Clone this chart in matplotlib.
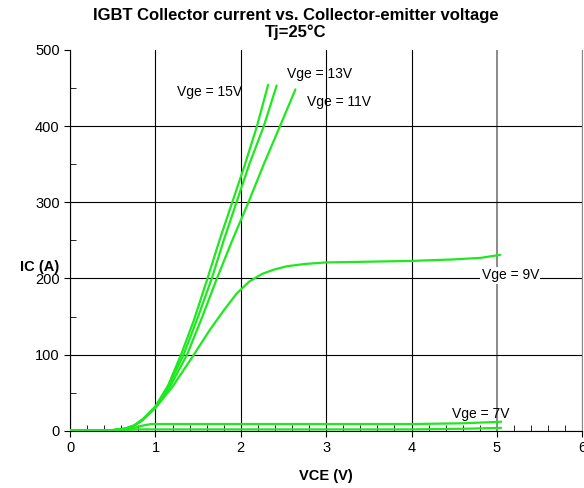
import matplotlib
matplotlib.use("Agg")
import matplotlib.pyplot as plt
from matplotlib.ticker import MultipleLocator

plt.rcParams['font.family'] = ['Liberation Sans', 'DejaVu Sans']

# curves: VCE (V) and IC (A)
vce_15 = [0, 0.5, 0.65, 0.75, 0.85, 1.0, 1.15, 1.3, 1.45, 1.61, 1.75, 1.90, 2.05, 2.19, 2.32]
ic_15 = [0, 1, 3, 7, 15, 32, 60, 100, 145, 200, 250, 300, 350, 400, 454]
vce_13 = [0, 0.5, 0.65, 0.75, 0.85, 1.0, 1.15, 1.33, 1.5, 1.66, 1.8, 1.95, 2.1, 2.27, 2.42]
ic_13 = [0, 1, 3, 7, 15, 32, 58, 100, 150, 200, 250, 300, 350, 400, 453]
vce_11 = [0, 0.5, 0.65, 0.75, 0.85, 1.0, 1.18, 1.37, 1.55, 1.72, 1.9, 2.09, 2.27, 2.46, 2.64]
ic_11 = [0, 1, 3, 7, 15, 31, 60, 100, 150, 200, 250, 300, 350, 400, 448]
vce_9 = [0, 0.5, 0.65, 0.75, 0.85, 1.0, 1.2, 1.45, 1.64, 1.8, 1.95, 2.1, 2.25, 2.4, 2.54, 2.75, 3.0, 3.5, 4.0, 4.5, 4.81, 5.04]
ic_9 = [0, 1, 3, 7, 14, 30, 58, 100, 133, 158, 180, 196, 206, 212, 216, 219, 221, 222, 223, 225, 227, 231]
vce_7 = [0, 0.5, 0.65, 0.75, 0.85, 0.95, 1.5, 2, 3, 4, 4.6, 5.05]
ic_7 = [1, 1, 2, 4, 7, 9, 9, 9, 9, 9, 10, 12]
vce_low = [0, 0.6, 0.8, 1.0, 2, 3, 4, 4.7, 5.05]
ic_low = [1, 1, 2, 2, 2, 2, 2, 3, 4]

labels = ["Vge = 15V", "Vge = 13V", "Vge = 11V", "Vge = 9V", "Vge = 7V"]
label_x = [1.25, 2.54, 2.77, 4.82, 4.48]
label_y = [444, 468, 431, 204, 22]

green = '#1ee81e'

fig = plt.figure(figsize=(5.84, 4.88), dpi=100)
ax = fig.add_axes([0.12, 0.117, 0.877, 0.781])

for xs, ys in [(vce_15, ic_15), (vce_13, ic_13), (vce_11, ic_11),
               (vce_9, ic_9), (vce_7, ic_7), (vce_low, ic_low)]:
	ax.plot(xs, ys, color=green, lw=1.6, solid_capstyle='round', solid_joinstyle='round', zorder=3)

for i in range(len(labels)):
	bb = None
	if labels[i] == "Vge = 9V":
		bb = dict(facecolor='white', edgecolor='none', pad=1)
	ax.text(label_x[i], label_y[i], labels[i], fontsize=10, va='center', ha='left', bbox=bb, zorder=4)

ax.set_xlim(0, 6)
ax.set_ylim(0, 500)
ax.xaxis.set_major_locator(MultipleLocator(1))
ax.xaxis.set_minor_locator(MultipleLocator(0.2))
ax.yaxis.set_major_locator(MultipleLocator(100))
ax.yaxis.set_minor_locator(MultipleLocator(50))
ax.tick_params(which='major', direction='out', length=4, labelsize=10.5)
ax.tick_params(which='minor', direction='in', length=4)

ax.grid(True, which='major', color='black', lw=0.8)
ax.set_axisbelow(True)
fig.canvas.draw()
for t, gl in zip(ax.get_yticks(), ax.yaxis.get_gridlines()):
	if t >= 500:
		gl.set_visible(False)
for t, gl in zip(ax.get_xticks(), ax.xaxis.get_gridlines()):
	if abs(t - 5) < 0.01:
		gl.set_color('#8a8a8a')
		gl.set_linewidth(1.4)

ax.spines['top'].set_visible(False)
ax.spines['right'].set_color('#888888')

fig.text(0.507, 0.983, "IGBT Collector current vs. Collector-emitter voltage",
	ha='center', va='top', fontsize=12, fontweight='bold')
fig.text(0.507, 0.95, "Tj=25°C", ha='center', va='top', fontsize=12, fontweight='bold')
fig.text(0.035, 0.453, "IC (A)", ha='left', va='center', fontsize=10.5, fontweight='bold')
ax.set_xlabel("VCE (V)", fontsize=10.5, fontweight='bold', labelpad=10)

fig.savefig("out.png", dpi=100)
